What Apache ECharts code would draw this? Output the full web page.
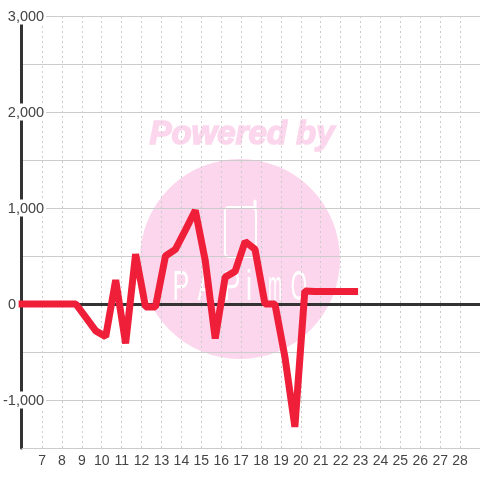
<!DOCTYPE html>
<html>
<head>
<meta charset="utf-8">
<script src="https://cdn.jsdelivr.net/npm/echarts@6/dist/echarts.min.js"></script>
<style>
  html, body { margin: 0; padding: 0; background: #fff; }
  #chart { width: 480px; height: 480px; }
</style>
</head>
<body>
<div id="chart"></div>
<script>
const xValues = [6, 8.7, 9.2, 9.7, 10.2, 10.7, 11.2, 11.7, 12.2, 12.7, 13.2, 13.7, 14.2, 14.7, 15.2, 15.7, 16.2, 16.7, 17.2, 17.7, 18.2, 18.7, 19.2, 19.7, 20.2, 20.7, 22.7];
const yValues = [0, 0, -140, -280, -340, 250, -410, 520, -30, -30, 500, 570, 770, 975, 450, -360, 280, 340, 650, 570, 0, 0, -550, -1280, 135, 130, 130];
const yLabels = { '3000': '3,000', '2000': '2,000', '1000': '1,000', '-1000': '-1,000' };

const chart = echarts.init(document.getElementById('chart'));
const font = 'Liberation Sans';

// 水印文字，逐个字母摆放
const logoLetters = [['P', 181, 0.6], ['A', 206, 0.6], ['P', 232, 0.6], ['i', 249, 0.7], ['m', 275, 0.4], ['O', 299, 0.5]];

chart.setOption({
  animation: false,
  grid: { left: 21, top: 16, width: 460, height: 432 },
  graphic: {
    elements: [
      { type: 'circle', z: -10, silent: true, shape: { cx: 240, cy: 259, r: 100 }, style: { fill: '#fbd6ec' } },
      { type: 'text', z: -9, silent: true, x: 242, y: 135, style: { text: 'Powered by', font: 'italic bold 33px "Liberation Sans"', fill: '#fbd6ec', stroke: '#fbd6ec', lineWidth: 1.5, align: 'center', verticalAlign: 'middle' } },
      { type: 'rect', z: -9, silent: true, shape: { x: 225, y: 207, width: 31, height: 50, r: 4 }, style: { fill: 'none', stroke: '#fff', lineWidth: 2 } },
      { type: 'line', z: -9, silent: true, shape: { x1: 255, y1: 201, x2: 255, y2: 209 }, style: { stroke: '#fff', lineWidth: 3, lineCap: 'round' } }
    ].concat(logoLetters.map(l => ({
      type: 'text', z: -9, silent: true, x: l[1], y: 288, scaleX: l[2],
      style: { text: l[0], font: '42px "Liberation Sans"', fill: '#fff', align: 'center', verticalAlign: 'middle' }
    })))
  },
  xAxis: [
    {
      type: 'value', min: 6, max: 29, interval: 1,
      axisLine: { onZero: false, lineStyle: { color: '#ccc', width: 1 } },
      axisTick: { show: false },
      axisLabel: { showMinLabel: false, showMaxLabel: false, fontFamily: font, fontSize: 14, color: '#444', margin: 6 },
      splitLine: { show: true, lineStyle: { color: '#ccc', type: [2, 3], width: 1 } }
    },
    {
      type: 'value', min: 6, max: 29, position: 'bottom',
      axisLine: { onZero: true, lineStyle: { color: '#333', width: 3 } },
      axisTick: { show: false }, axisLabel: { show: false }, splitLine: { show: false }
    }
  ],
  yAxis: {
    type: 'value', min: -1500, max: 3000, interval: 500, offset: 1,
    axisLine: { show: true, onZero: false, lineStyle: { color: '#333', width: 3 } },
    axisTick: { show: false },
    axisLabel: {
      margin: -25, fontFamily: font, fontSize: 14, color: '#444',
      formatter: function (v) {
        if (v === 0) return '{z|0}';
        return yLabels[v] ? '{w|' + yLabels[v] + '}' : '';
      },
      rich: {
        w: { fontFamily: font, fontSize: 14.5, color: '#444', backgroundColor: '#fff', padding: [2, 2, 0, 0] },
        z: { fontFamily: font, fontSize: 14.5, color: '#444', padding: [2, 30, 0, 0] }
      }
    },
    splitLine: { show: true, lineStyle: { color: '#ccc', width: 1 } }
  },
  series: [{
    type: 'line',
    data: xValues.map((x, i) => [x, yValues[i]]),
    showSymbol: false,
    symbol: 'none',
    clip: false,
    lineStyle: { color: '#ef1f39', width: 7, cap: 'square', join: 'bevel' }
  }]
});
</script>
</body>
</html>
